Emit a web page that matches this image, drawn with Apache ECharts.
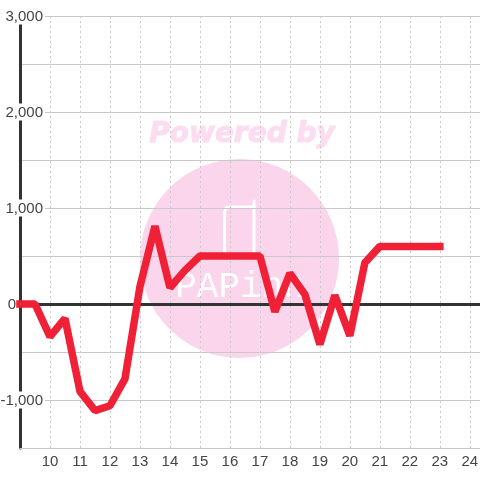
<!DOCTYPE html>
<html><head><meta charset="utf-8">
<style>html,body{margin:0;padding:0;background:#fff}#c{width:480px;height:480px}</style>
<script src="https://cdn.jsdelivr.net/npm/echarts@6/dist/echarts.min.js"></script>
</head><body><div id="c"></div>
<script>
const hours = [9,9.5,10,10.5,11,11.5,12,12.5,13,13.5,14,14.5,15,15.5,16,16.5,17,17.5,18,18.5,19,19.5,20,20.5,21,21.5,22,22.5,23];
const values = [0,0,-340,-150,-910,-1110,-1060,-780,180,810,170,350,500,500,500,500,500,-80,320,100,-420,90,-330,430,600,600,600,600,600];
const yLabels = {'3000':'3,000','2000':'2,000','1000':'1,000','-1000':'-1,000'};
const xRange = {min:9,max:24.34};
const gridLine = '#c9c9c9', ink = '#444444', red = '#f02036', pink = '#fbd5ec';
const chart = echarts.init(document.getElementById('c'),null,{renderer:'canvas'});
const logo = {stroke:'#fff',lineWidth:3,fill:null,lineCap:'round',lineJoin:'round'};
chart.setOption({
  animation:false,
  backgroundColor:'#fff',
  grid:{left:20,right:0,top:16,bottom:32,containLabel:false,outerBoundsMode:'none'},
  graphic:[
    {type:'circle',z:-10,silent:true,shape:{cx:239.5,cy:258.5,r:99.5},style:{fill:pink}},
    {type:'text',z:-10,silent:true,x:242,y:135,style:{text:'Powered by',fill:'#fcdcf0',stroke:'#fcdcf0',lineWidth:1,font:'italic bold 28px "DejaVu Sans"',align:'center',verticalAlign:'middle'}},
    {type:'polyline',z:-9,silent:true,shape:{points:[[224.5,254],[224.5,212],[226,208],[230,207],[254,207]]},style:logo},
    {type:'polyline',z:-9,silent:true,shape:{points:[[254,201],[254,254]]},style:logo},
    {type:'text',z:-9,silent:true,x:240,y:287,style:{text:'PAPinn',fill:'#fff',font:'36px "Liberation Mono"',align:'center',verticalAlign:'middle'}}
  ],
  xAxis:[
    {type:'value',...xRange,interval:1,position:'bottom',
      axisLine:{onZero:false,lineStyle:{color:gridLine,width:1.2}},axisTick:{show:false},
      axisLabel:{color:ink,fontSize:15,fontFamily:'Liberation Sans',margin:6,showMinLabel:false,showMaxLabel:false,
        hideOverlap:false,formatter:v=>(Number.isInteger(v)&&v>9)?String(v):''},
      splitLine:{show:true,lineStyle:{color:gridLine,type:[2,3],width:1}}},
    {type:'value',...xRange,interval:1,position:'top',
      axisLine:{onZero:true,lineStyle:{color:'#333',width:3}},axisTick:{show:false},axisLabel:{show:false},splitLine:{show:false}}
  ],
  yAxis:{type:'value',min:-1500,max:3000,interval:500,position:'left',
    axisLine:{show:true,onZero:false,lineStyle:{color:'#333',width:3}},axisTick:{show:false},
    splitLine:{show:true,lineStyle:{color:gridLine,width:1.2}},
    axisLabel:{margin:-25,align:'right',showMinLabel:true,
      formatter:v=>v===0?'{z|0}':(yLabels[String(v)]?'{a|'+yLabels[String(v)]+'}':''),
      rich:{a:{color:ink,fontSize:15,fontFamily:'Liberation Sans',backgroundColor:'#fff',padding:[2,2,0,4],lineHeight:15},
            z:{color:ink,fontSize:15,fontFamily:'Liberation Sans',padding:[2,29,0,0],lineHeight:15}}}},
  series:[{type:'line',xAxisIndex:0,data:hours.map((h,i)=>[h,values[i]]),showSymbol:false,symbol:'none',clip:false,
    lineStyle:{color:red,width:7.5,cap:'square',join:'bevel'},z:5}]
});
</script></body></html>
